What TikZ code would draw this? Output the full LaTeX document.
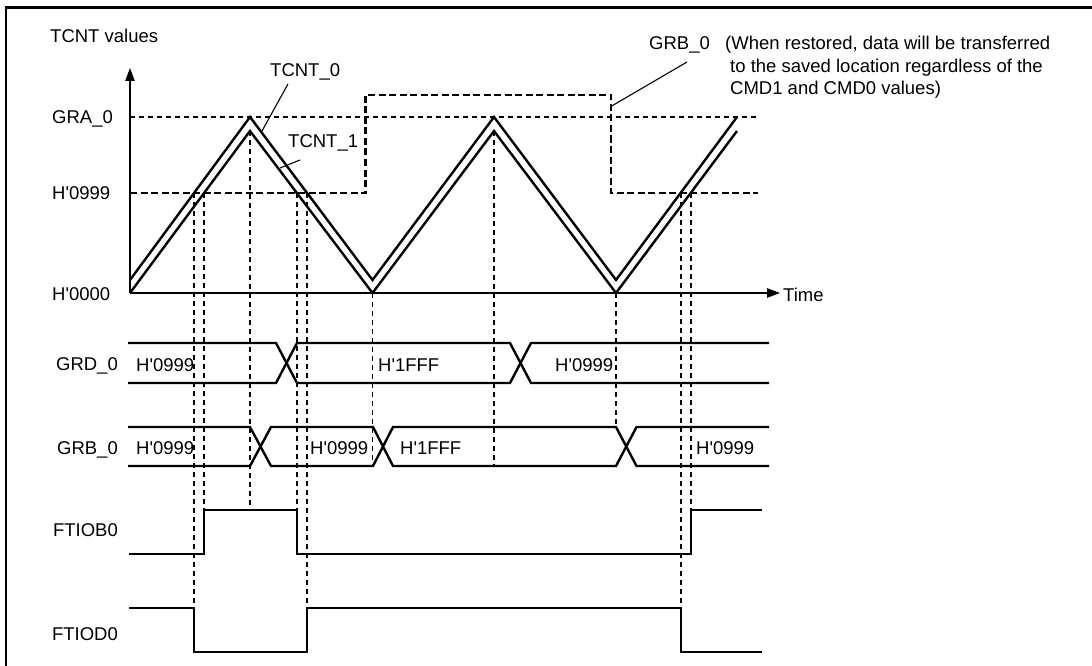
\documentclass[tikz,border=0pt]{standalone}
\usepackage{fontspec}
\setmainfont{Liberation Sans}
\usetikzlibrary{arrows.meta}
\begin{document}
\begin{tikzpicture}[x=1pt,y=-1pt,
  txt/.style={inner sep=0pt, font=\fontsize{18.5}{22}\selectfont},
  lbl/.style={txt, anchor=base west},
  rlbl/.style={txt, anchor=base east},
  hair/.style={line width=1.1pt},
  heavy/.style={line width=2.4pt, line join=miter},
  guide/.style={line width=1.1pt, dash pattern=on 5pt off 4pt},
  heavydash/.style={line width=2.6pt, dash pattern=on 7pt off 3.5pt},
  arr/.style={-{Triangle[length=13pt,width=9.5pt]}}
]
\useasboundingbox (0,0) rectangle (1092,666);
% frame
\draw[line width=2.2pt] (6,666) -- (6,7.5) -- (1092,7.5);

% guide lines
\draw[guide] (130,117) -- (758,117);
\draw[guide] (194,193) -- (194,608);
\draw[guide] (204,193) -- (204,510);
\draw[guide] (250,131) -- (250,510);
\draw[guide] (297,193) -- (297,510);
\draw[guide] (307,193) -- (307,608);
\draw[guide] (372.5,293) -- (372.5,466);
\draw[guide] (494,131) -- (494,466);
\draw[guide] (616,293) -- (616,427);
\draw[guide] (681,193) -- (681,608);
\draw[guide] (691,193) -- (691,510);

% GRB_0 register level
\draw[heavydash] (130,193) -- (365.5,193) -- (365.5,95) -- (611,95) -- (611,193) -- (758,193);

% axes
\coordinate (O) at (130,293);
\coordinate (ytip) at (130,68);
\coordinate (xtip) at (780,293);
\draw[hair,arr] (O) -- (ytip);
\draw[hair,arr] (O) -- (xtip);

% counters
\draw[heavy] (130,280) -- (250,117) -- (372.5,280) -- (494,117) -- (616,280) -- (737,117);
\draw[heavy] (130,293) -- (250,131) -- (372.5,293) -- (494,131) -- (616,293) -- (737,131);

% labels
\node[lbl] (tv) at (50,42.3) {TCNT values};
\node[lbl] (gra) at (52,124) {GRA\_0};
\node[lbl] (h999) at (52,199.5) {H\textquotesingle0999};
\node[lbl] (h000) at (52,300) {H\textquotesingle0000};
\node[lbl] (t0) at (270,76.7) {TCNT\_0};
\node[lbl] (t1) at (288,148) {TCNT\_1};
\node[lbl] (grb) at (649,50) {GRB\_0};
\node[lbl] (n1) at (725,50) {(When restored, data will be transferred};
\node[lbl] (n2) at (730,72.5) {to the saved location regardless of the};
\node[lbl] (n3) at (730,95) {CMD1 and CMD0 values)};
\node[lbl] (time) at (783,301) {Time};

% leaders
\coordinate (t0a) at (288,84);
\coordinate (t0b) at (262,131);
\coordinate (t1a) at (300,160);
\coordinate (t1b) at (280,168);
\coordinate (ga) at (687,62);
\coordinate (gb) at (611.7,106);
\draw[hair] (t0a) -- (t0b);
\draw[hair] (t1a) -- (t1b);
\draw[hair] (ga) -- (gb);

% GRD_0 bus
\node[rlbl] (grdl) at (118,370) {GRD\_0};
\draw[heavy] (128,343) -- (276,343) -- (297,383) -- (510,383) -- (531,343) -- (769,343);
\draw[heavy] (128,383) -- (276,383) -- (297,343) -- (510,343) -- (531,383) -- (769,383);
\node[lbl] (d1) at (136,371.5) {H\textquotesingle0999};
\node[lbl] (d2) at (378,371.5) {H\textquotesingle1FFF};
\node[lbl] (d3) at (555,371.5) {H\textquotesingle0999};

% GRB_0 bus
\node[rlbl] (grbl) at (118,454) {GRB\_0};
\draw[heavy] (128,427) -- (250,427) -- (271,466) -- (373,466) -- (393,427) -- (616,427) -- (636.5,466) -- (769,466);
\draw[heavy] (128,466) -- (250,466) -- (271,427) -- (373,427) -- (393,466) -- (616,466) -- (636.5,427) -- (769,427);
\node[lbl] (b1) at (136,454) {H\textquotesingle0999};
\node[lbl] (b2) at (310,454) {H\textquotesingle0999};
\node[lbl] (b3) at (400,454) {H\textquotesingle1FFF};
\node[lbl] (b4) at (696,454) {H\textquotesingle0999};

% FTIOB0
\node[rlbl] (ftb) at (118,536.7) {FTIOB0};
\draw[heavy] (129,554) -- (204,554) -- (204,510) -- (297,510) -- (297,554) -- (691,554) -- (691,510) -- (762,510);

% FTIOD0
\node[rlbl] (ftd) at (118,640) {FTIOD0};
\draw[heavy] (129,608) -- (194,608) -- (194,652) -- (307,652) -- (307,608) -- (681,608) -- (681,652) -- (762,652);
\end{tikzpicture}
\end{document}
